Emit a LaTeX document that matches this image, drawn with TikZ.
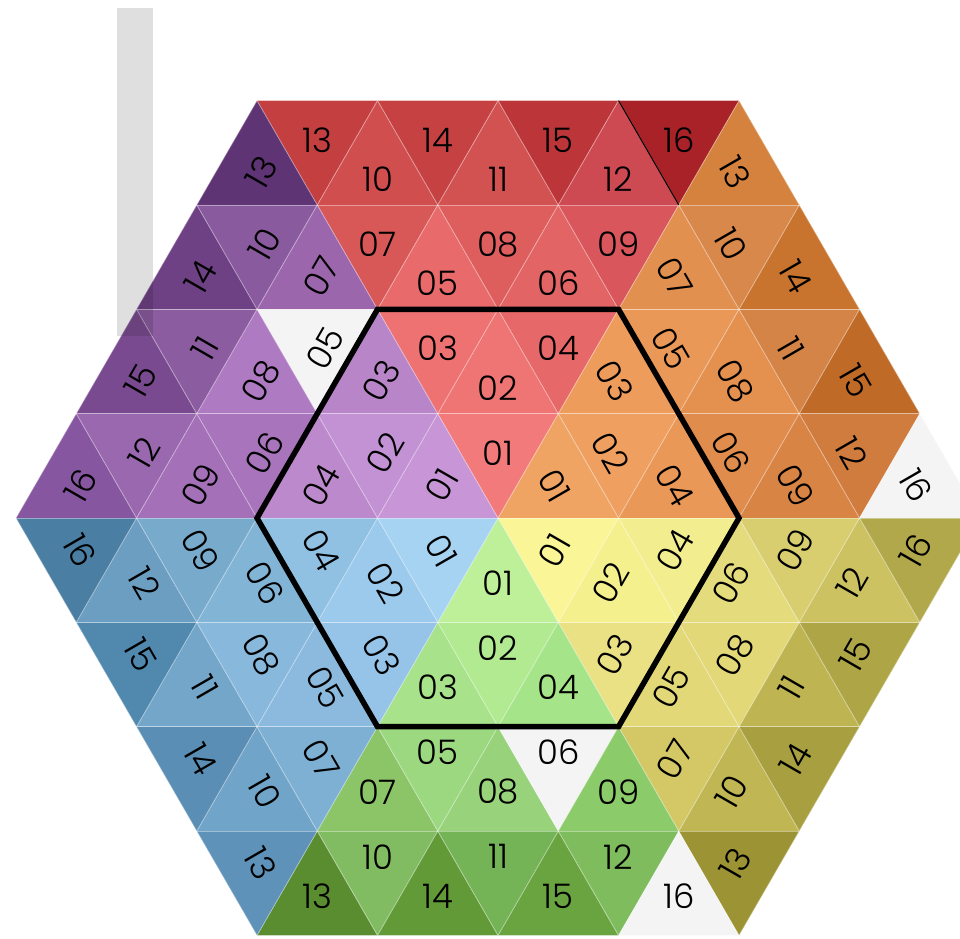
\documentclass[tikz,border=0pt]{standalone}
\usepackage{fontspec}
\setmainfont{Poppins}[UprightFont=* Light]
\definecolor{barcol}{HTML}{DFDFDF}
\tikzset{
  num/.style={font=\fontsize{16}{16}\selectfont,inner sep=0pt},
  grid/.style={draw=white,draw opacity=0.4,line width=0.4pt},
  rim/.style={line width=2.6pt,line join=miter}
}
% #1 name, #2 placement of the sector, #3 text angle, #4 fills of 01..16
\newcommand\drawsector[4]{%
  \begin{scope}[#2]
  \foreach \k/\j/\n in {1/1/1,2/1/3,2/2/2,2/3/4,3/1/7,3/2/5,3/3/8,3/4/6,3/5/9,
      4/1/13,4/2/10,4/3/14,4/4/11,4/5/15,4/6/12,4/7/16}{
    \pgfmathsetmacro\hexcol{{#4}[\n-1]}
    \definecolor{tri}{HTML}{\hexcol}
    \pgfmathsetmacro\u{\j-\k}
    \ifodd\j
      \fill[tri] (\u,{(\k-1)*\h}) -- (\u-1,\k*\h) -- (\u+1,\k*\h) -- cycle;
      \node[num,rotate=#3] (#1-\n) at (\u,{(\k-1/3)*\h-0.075}) {\ifnum\n<10 0\fi\n};
    \else
      \fill[tri] (\u,\k*\h) -- (\u-1,{(\k-1)*\h}) -- (\u+1,{(\k-1)*\h}) -- cycle;
      \node[num,rotate=#3] (#1-\n) at (\u,{(\k-2/3)*\h-0.15}) {\ifnum\n<10 0\fi\n};
    \fi}
  \end{scope}}
\begin{document}
\begin{tikzpicture}
\def\h{1.7320508}
\useasboundingbox (-8.266,-6.971) rectangle (7.668,8.598);
\clip (-8.266,-6.971) rectangle (7.668,8.598);
\fill[barcol] (-6.324,3.021) rectangle (-5.726,8.465);
\drawsector{red}{}{0}{"F37A7A","EF7474","EE7272","E66868","E86A6A","E26464","D85858","DE5E5E",
  "D8565C","D04E4E","D25252","CE4A52","C43F40","C64242","BC3639","A82228"}
\drawsector{orange}{rotate=-60}{-60}{"F0A464","EFA060","EE9C5C","EA9858","E99858","E08C4C","E29050","E4904E",
  "D88444","D8884A","D48446","D07C3E","D4823E","C8742E","C06A28","F4F4F4"}
\drawsector{yellow}{yscale=-1,rotate=-60}{60}{"FAF596","F5F08E","EAE084","F2EE90","E2D878","E4DC7C","D4C866","E2D878",
  "D8CE70","C0B654","BEB452","CCC262","9C9434","A8A040","AEA646","B0A84A"}
\drawsector{green}{yscale=-1}{0}{"BEF09A","B2EA92","A8E28A","A6E48A","9CD880","F4F4F4","8CC468","98D27A",
  "8CCB6A","82BC62","74B456","7EBC5E","5A8C30","629A38","6AA440","F4F4F4"}
\drawsector{blue}{rotate=120}{-60}{"A6D3F2","9CCAEC","96C4E8","90C0E2","8CBADE","82B4D6","7EB0D4","88B8DC",
  "78AACC","70A4C8","74A6CA","6C9EC2","5E92B8","5A8EB4","5088AE","4A7EA2"}
\drawsector{purple}{xscale=-1,rotate=-60}{60}{"C896D6","C292D4","B886C8","BC8ACC","F4F4F4","A874BC","9C66AC","AE7AC2",
  "A470B8","8A5A9E","8C5CA0","9A68AE","5E3474","6E4084","7A4A90","8656A0"}
% lattice lines and the shadow of the bar
\begin{scope}
  \clip (0:8) -- (60:8) -- (120:8) -- (180:8) -- (240:8) -- (300:8) -- cycle;
  \foreach \a in {0,60,120}
    \foreach \m in {-4,...,4}
      \draw[grid,rotate=\a] (-9,\m*\h) -- (9,\m*\h);
  \fill[black,opacity=0.12] (-6.324,3.021) rectangle (-5.726,8.465);
\end{scope}
\draw[line width=0.5pt] (2,4*\h) -- (3,3*\h);
\draw[rim] (0:4) -- (60:4) -- (120:4) -- (180:4) -- (240:4) -- (300:4) -- cycle;
\end{tikzpicture}
\end{document}
